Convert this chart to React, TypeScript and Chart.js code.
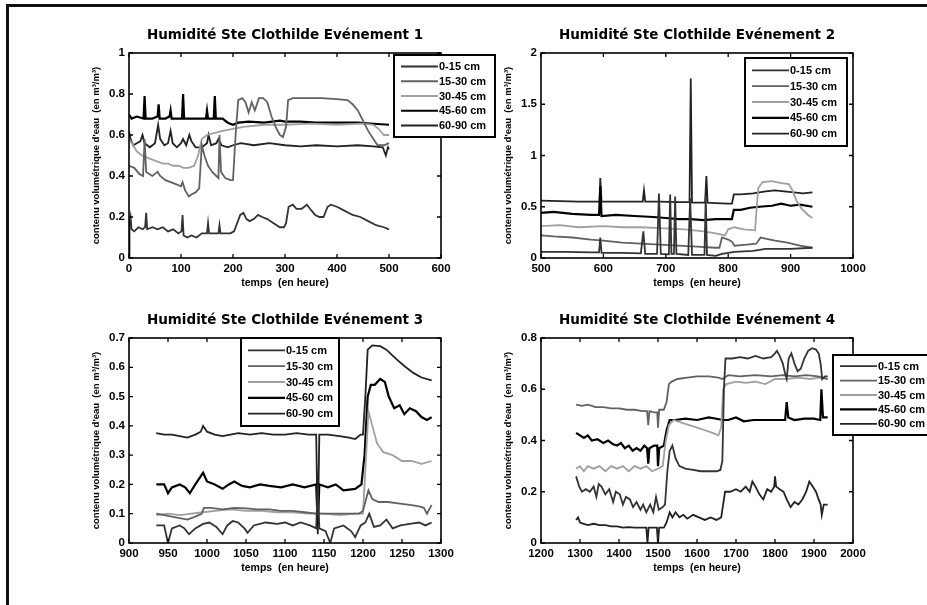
import React, { useEffect, useRef } from "react";
import { Chart, registerables } from "chart.js";
Chart.register(...registerables);

type P = [number, number][];

const LAYERS = ["0-15 cm", "15-30 cm", "30-45 cm", "45-60 cm", "60-90 cm"];
const LAYER_COLORS = ["#333333", "#626262", "#a0a0a0", "#000000", "#222222"];
const LAYER_WIDTHS = [1.8, 1.8, 1.8, 2.2, 1.8];
const X_TITLE = "temps  (en heure)";
const Y_TITLE = "contenu volumétrique d'eau  (en m³/m³)";

// ---------------- Evénement 1 ----------------
const E1_TITLE = "Humidité Ste Clothilde Evénement 1";
const E1_XTICKS = [0, 100, 200, 300, 400, 500, 600];
const E1_YTICKS = [0, 0.2, 0.4, 0.6, 0.8, 1];
const E1_0_15: P = [[0,0.0],[1,0.17],[3,0.2],[5,0.14],[10,0.13],[18,0.15],[26,0.14],[31,0.15],[33,0.22],[35,0.14],[45,0.15],[55,0.14],[65,0.15],[75,0.13],[85,0.14],[95,0.12],[101,0.13],[103,0.21],[105,0.11],[112,0.1],[120,0.11],[130,0.1],[140,0.12],[150,0.12],[152,0.17],[154,0.12],[165,0.12],[172,0.12],[174,0.16],[176,0.12],[185,0.12],[195,0.12],[202,0.13],[208,0.17],[214,0.21],[220,0.22],[226,0.19],[232,0.18],[240,0.19],[248,0.21],[256,0.2],[266,0.19],[278,0.17],[290,0.15],[298,0.15],[302,0.17],[307,0.25],[315,0.26],[322,0.24],[332,0.24],[342,0.26],[348,0.24],[358,0.21],[366,0.2],[374,0.2],[382,0.25],[388,0.26],[400,0.25],[415,0.23],[430,0.21],[445,0.2],[460,0.18],[475,0.16],[490,0.15],[500,0.14]];
const E1_15_30: P = [[0,0.45],[10,0.44],[20,0.41],[27,0.4],[30,0.58],[33,0.42],[45,0.4],[55,0.42],[60,0.4],[70,0.38],[80,0.37],[90,0.36],[100,0.35],[103,0.37],[108,0.33],[115,0.3],[120,0.31],[128,0.32],[135,0.34],[140,0.55],[145,0.5],[152,0.45],[160,0.42],[168,0.4],[172,0.39],[174,0.6],[177,0.42],[185,0.39],[195,0.38],[200,0.38],[205,0.6],[210,0.77],[218,0.78],[224,0.76],[230,0.71],[236,0.76],[242,0.72],[250,0.78],[258,0.78],[266,0.76],[274,0.69],[282,0.64],[290,0.6],[296,0.59],[302,0.64],[306,0.77],[315,0.78],[340,0.78],[370,0.78],[400,0.775],[420,0.77],[430,0.75],[440,0.72],[450,0.67],[460,0.62],[470,0.58],[478,0.55],[490,0.55],[500,0.56]];
const E1_30_45: P = [[0,0.58],[8,0.55],[15,0.52],[25,0.5],[35,0.49],[45,0.48],[55,0.47],[65,0.46],[75,0.46],[85,0.45],[95,0.45],[105,0.44],[115,0.44],[125,0.45],[133,0.5],[140,0.58],[150,0.6],[165,0.61],[180,0.62],[200,0.63],[220,0.64],[260,0.65],[300,0.65],[350,0.655],[400,0.65],[450,0.655],[470,0.65],[480,0.63],[490,0.6],[500,0.6]];
const E1_45_60: P = [[0,0.7],[5,0.68],[15,0.69],[28,0.68],[30,0.79],[32,0.68],[45,0.68],[55,0.69],[57,0.75],[59,0.68],[70,0.68],[78,0.69],[80,0.72],[82,0.68],[95,0.68],[102,0.68],[104,0.8],[106,0.68],[120,0.68],[135,0.68],[148,0.68],[150,0.72],[152,0.68],[163,0.68],[165,0.79],[167,0.68],[180,0.68],[190,0.66],[200,0.65],[210,0.66],[230,0.665],[260,0.66],[290,0.67],[300,0.665],[330,0.665],[360,0.66],[400,0.66],[440,0.66],[470,0.655],[500,0.65]];
const E1_60_90: P = [[0,0.62],[3,0.58],[8,0.55],[15,0.56],[22,0.57],[26,0.6],[30,0.56],[40,0.54],[50,0.56],[56,0.65],[60,0.58],[68,0.55],[75,0.56],[80,0.62],[84,0.56],[92,0.54],[100,0.56],[104,0.58],[110,0.55],[116,0.6],[120,0.57],[128,0.54],[140,0.54],[150,0.56],[153,0.6],[158,0.55],[168,0.56],[172,0.58],[178,0.55],[190,0.54],[200,0.55],[215,0.56],[240,0.55],[270,0.56],[300,0.55],[330,0.545],[360,0.55],[400,0.545],[440,0.55],[470,0.545],[488,0.54],[494,0.5],[498,0.54],[500,0.53]];

// ---------------- Evénement 2 ----------------
const E2_TITLE = "Humidité Ste Clothilde Evénement 2";
const E2_XTICKS = [500, 600, 700, 800, 900, 1000];
const E2_YTICKS = [0, 0.5, 1, 1.5, 2];
const E2_0_15: P = [[500,0.06],[540,0.06],[580,0.055],[593,0.055],[595,0.2],[597,0.05],[630,0.05],[660,0.045],[664,0.26],[667,0.04],[686,0.04],[689,0.63],[692,0.04],[705,0.035],[707,0.62],[709,0.04],[713,0.04],[715,0.6],[717,0.04],[736,0.03],[739,0.58],[742,0.03],[762,0.03],[764,0.6],[766,0.03],[780,0.02],[790,0.04],[810,0.06],[840,0.07],[860,0.09],[900,0.09],[935,0.1]];
const E2_15_30: P = [[500,0.22],[520,0.21],[550,0.2],[580,0.18],[600,0.17],[630,0.15],[660,0.14],[690,0.13],[720,0.12],[750,0.11],[780,0.1],[786,0.1],[790,0.2],[800,0.18],[806,0.16],[810,0.12],[830,0.13],[845,0.14],[852,0.2],[860,0.19],[875,0.17],[895,0.15],[915,0.12],[935,0.1]];
const E2_30_45: P = [[500,0.31],[530,0.32],[560,0.3],[600,0.31],[630,0.3],[660,0.3],[700,0.29],[730,0.28],[760,0.26],[780,0.24],[795,0.22],[800,0.28],[810,0.3],[825,0.28],[843,0.27],[848,0.68],[855,0.74],[870,0.75],[885,0.73],[897,0.72],[903,0.66],[910,0.55],[918,0.48],[928,0.42],[935,0.39]];
const E2_45_60: P = [[500,0.44],[520,0.45],[550,0.43],[580,0.42],[593,0.42],[595,0.7],[597,0.41],[620,0.42],[650,0.41],[680,0.4],[700,0.39],[720,0.38],[740,0.38],[760,0.37],[780,0.38],[800,0.38],[806,0.38],[809,0.47],[820,0.47],[835,0.49],[850,0.5],[870,0.51],[885,0.53],[900,0.51],[915,0.52],[935,0.5]];
const E2_60_90: P = [[500,0.56],[530,0.555],[560,0.55],[590,0.55],[594,0.55],[595,0.78],[597,0.55],[620,0.55],[650,0.55],[663,0.55],[665,0.66],[667,0.55],[690,0.55],[720,0.545],[738,0.545],[740,1.75],[742,0.54],[760,0.54],[763,0.54],[765,0.8],[767,0.54],[780,0.535],[800,0.53],[806,0.53],[809,0.62],[820,0.62],[840,0.63],[860,0.65],[875,0.66],[890,0.65],[905,0.64],[920,0.63],[935,0.64]];

// ---------------- Evénement 3 ----------------
const E3_TITLE = "Humidité Ste Clothilde Evénement 3";
const E3_XTICKS = [900, 950, 1000, 1050, 1100, 1150, 1200, 1250, 1300];
const E3_YTICKS = [0, 0.1, 0.2, 0.3, 0.4, 0.5, 0.6, 0.7];
const E3_0_15: P = [[935,0.06],[945,0.06],[950,0.0],[955,0.05],[965,0.06],[971,0.05],[977,0.03],[985,0.05],[995,0.065],[1003,0.07],[1012,0.055],[1020,0.03],[1026,0.06],[1033,0.075],[1040,0.07],[1048,0.05],[1052,0.035],[1060,0.06],[1075,0.07],[1090,0.065],[1100,0.07],[1110,0.06],[1120,0.07],[1132,0.06],[1140,0.05],[1142,0.2],[1144,0.05],[1152,0.04],[1158,0.0],[1163,0.05],[1175,0.06],[1185,0.04],[1190,0.02],[1197,0.06],[1203,0.07],[1208,0.1],[1214,0.055],[1222,0.06],[1230,0.08],[1238,0.05],[1248,0.06],[1260,0.065],[1272,0.07],[1280,0.06],[1288,0.07]];
const E3_15_30: P = [[935,0.1],[945,0.095],[955,0.09],[965,0.085],[975,0.08],[985,0.09],[993,0.1],[996,0.12],[1005,0.12],[1020,0.115],[1035,0.12],[1050,0.118],[1065,0.115],[1080,0.115],[1095,0.11],[1110,0.11],[1125,0.105],[1140,0.1],[1160,0.1],[1180,0.1],[1195,0.1],[1200,0.11],[1204,0.15],[1207,0.18],[1212,0.15],[1220,0.14],[1232,0.14],[1245,0.135],[1260,0.13],[1272,0.125],[1278,0.12],[1282,0.1],[1288,0.13]];
const E3_30_45: P = [[935,0.095],[950,0.1],[965,0.095],[980,0.1],[995,0.105],[1010,0.11],[1030,0.115],[1050,0.11],[1070,0.11],[1090,0.105],[1110,0.105],[1130,0.1],[1150,0.1],[1170,0.095],[1190,0.1],[1200,0.1],[1204,0.3],[1207,0.45],[1212,0.4],[1218,0.34],[1226,0.31],[1238,0.3],[1250,0.28],[1262,0.28],[1275,0.27],[1288,0.28]];
const E3_45_60: P = [[935,0.2],[945,0.2],[950,0.17],[955,0.19],[965,0.2],[972,0.19],[978,0.17],[985,0.2],[995,0.24],[1000,0.21],[1010,0.2],[1020,0.185],[1028,0.2],[1035,0.21],[1045,0.195],[1055,0.19],[1068,0.2],[1080,0.195],[1095,0.19],[1110,0.2],[1125,0.19],[1140,0.2],[1142,0.06],[1144,0.2],[1155,0.19],[1165,0.2],[1175,0.18],[1190,0.185],[1198,0.2],[1202,0.3],[1206,0.5],[1210,0.54],[1215,0.54],[1222,0.56],[1228,0.55],[1233,0.5],[1240,0.46],[1247,0.47],[1253,0.44],[1260,0.46],[1268,0.45],[1275,0.43],[1282,0.42],[1288,0.43]];
const E3_60_90: P = [[935,0.375],[945,0.37],[955,0.37],[965,0.365],[975,0.36],[985,0.37],[992,0.38],[995,0.4],[1000,0.38],[1010,0.37],[1020,0.365],[1030,0.37],[1040,0.375],[1055,0.37],[1070,0.375],[1085,0.37],[1100,0.37],[1115,0.375],[1130,0.37],[1140,0.37],[1142,0.03],[1144,0.37],[1155,0.37],[1170,0.365],[1182,0.36],[1190,0.355],[1197,0.37],[1200,0.37],[1203,0.5],[1206,0.66],[1212,0.675],[1222,0.672],[1230,0.66],[1238,0.64],[1246,0.62],[1255,0.6],[1265,0.58],[1275,0.565],[1288,0.555]];

// ---------------- Evénement 4 ----------------
const E4_TITLE = "Humidité Ste Clothilde Evénement 4";
const E4_XTICKS = [1200, 1300, 1400, 1500, 1600, 1700, 1800, 1900, 2000];
const E4_YTICKS = [0, 0.2, 0.4, 0.6, 0.8];
const E4_0_15: P = [[1290,0.26],[1298,0.22],[1305,0.2],[1315,0.21],[1325,0.2],[1335,0.22],[1342,0.18],[1348,0.23],[1355,0.22],[1365,0.19],[1375,0.21],[1385,0.16],[1392,0.2],[1402,0.19],[1410,0.15],[1418,0.18],[1428,0.17],[1436,0.14],[1445,0.16],[1455,0.13],[1462,0.15],[1470,0.12],[1480,0.15],[1488,0.12],[1495,0.18],[1502,0.13],[1512,0.14],[1518,0.15],[1524,0.28],[1530,0.36],[1537,0.38],[1545,0.33],[1555,0.3],[1570,0.29],[1590,0.285],[1610,0.28],[1630,0.28],[1650,0.28],[1660,0.285],[1665,0.32],[1669,0.6],[1673,0.72],[1690,0.72],[1710,0.725],[1730,0.72],[1750,0.73],[1770,0.72],[1790,0.725],[1800,0.74],[1805,0.75],[1812,0.73],[1820,0.7],[1826,0.66],[1830,0.64],[1835,0.72],[1842,0.74],[1850,0.7],[1858,0.67],[1866,0.68],[1875,0.72],[1885,0.75],[1895,0.76],[1905,0.755],[1912,0.74],[1917,0.7],[1921,0.64],[1928,0.65],[1935,0.65]];
const E4_15_30: P = [[1290,0.54],[1305,0.535],[1320,0.54],[1340,0.53],[1360,0.53],[1380,0.525],[1400,0.525],[1420,0.52],[1440,0.52],[1460,0.515],[1472,0.515],[1475,0.46],[1478,0.515],[1490,0.51],[1498,0.51],[1500,0.45],[1503,0.52],[1515,0.52],[1522,0.55],[1528,0.62],[1535,0.63],[1550,0.64],[1575,0.645],[1600,0.65],[1630,0.65],[1655,0.645],[1665,0.64],[1680,0.655],[1710,0.65],[1750,0.655],[1790,0.65],[1820,0.655],[1850,0.65],[1880,0.655],[1910,0.65],[1935,0.64]];
const E4_30_45: P = [[1290,0.29],[1300,0.3],[1310,0.28],[1320,0.3],[1335,0.29],[1350,0.3],[1365,0.28],[1380,0.3],[1395,0.29],[1410,0.3],[1425,0.28],[1440,0.3],[1455,0.29],[1470,0.3],[1485,0.28],[1500,0.29],[1512,0.3],[1520,0.4],[1528,0.46],[1540,0.48],[1560,0.47],[1580,0.46],[1600,0.45],[1620,0.44],[1640,0.43],[1655,0.42],[1662,0.45],[1667,0.6],[1675,0.62],[1700,0.63],[1725,0.625],[1750,0.63],[1775,0.62],[1800,0.64],[1830,0.64],[1860,0.645],[1890,0.64],[1915,0.645],[1935,0.64]];
const E4_45_60: P = [[1290,0.43],[1300,0.42],[1310,0.41],[1320,0.42],[1330,0.4],[1345,0.405],[1360,0.39],[1372,0.4],[1385,0.385],[1395,0.38],[1405,0.39],[1415,0.37],[1425,0.38],[1435,0.36],[1445,0.37],[1455,0.36],[1465,0.38],[1472,0.37],[1475,0.31],[1478,0.37],[1490,0.38],[1498,0.38],[1500,0.3],[1503,0.37],[1515,0.38],[1522,0.44],[1530,0.48],[1545,0.48],[1570,0.485],[1600,0.48],[1630,0.49],[1650,0.485],[1665,0.48],[1680,0.48],[1700,0.49],[1720,0.475],[1745,0.48],[1770,0.48],[1800,0.48],[1826,0.48],[1830,0.55],[1834,0.49],[1850,0.48],[1875,0.485],[1900,0.485],[1916,0.48],[1919,0.6],[1923,0.49],[1935,0.49]];
const E4_60_90: P = [[1290,0.09],[1295,0.1],[1300,0.08],[1310,0.075],[1320,0.07],[1335,0.075],[1350,0.07],[1365,0.07],[1380,0.065],[1395,0.065],[1410,0.06],[1425,0.062],[1440,0.06],[1455,0.06],[1470,0.06],[1473,0.0],[1476,0.06],[1490,0.06],[1497,0.06],[1500,0.0],[1503,0.06],[1515,0.06],[1522,0.08],[1530,0.12],[1537,0.1],[1545,0.12],[1555,0.1],[1565,0.11],[1575,0.095],[1590,0.11],[1605,0.1],[1620,0.09],[1635,0.1],[1650,0.09],[1662,0.1],[1667,0.15],[1672,0.2],[1685,0.2],[1700,0.21],[1712,0.2],[1725,0.22],[1735,0.2],[1742,0.24],[1750,0.22],[1760,0.19],[1770,0.17],[1780,0.21],[1790,0.2],[1798,0.22],[1800,0.26],[1803,0.22],[1812,0.21],[1822,0.2],[1830,0.17],[1840,0.14],[1850,0.16],[1860,0.15],[1870,0.17],[1880,0.2],[1888,0.24],[1897,0.22],[1905,0.2],[1912,0.17],[1917,0.15],[1920,0.11],[1925,0.15],[1935,0.15]];

const FONT = "Arial, 'Liberation Sans', Helvetica, sans-serif";
const TITLE_FONT = "'DejaVu Sans', Arial, sans-serif";

interface PlotCfg {
  title: string;
  xticks: number[];
  yticks: number[];
  series: P[];
  legend: { dx: number; dy: number; w: number; h: number };
}

const PLOTS: { cfg: PlotCfg; left: number; top: number }[] = [
  { cfg: { title: E1_TITLE, xticks: E1_XTICKS, yticks: E1_YTICKS, series: [E1_0_15, E1_15_30, E1_30_45, E1_45_60, E1_60_90], legend: { dx: 265, dy: 2, w: 101, h: 82 } }, left: 0, top: 0 },
  { cfg: { title: E2_TITLE, xticks: E2_XTICKS, yticks: E2_YTICKS, series: [E2_0_15, E2_15_30, E2_30_45, E2_45_60, E2_60_90], legend: { dx: 204, dy: 5, w: 102, h: 88 } }, left: 412, top: 0 },
  { cfg: { title: E3_TITLE, xticks: E3_XTICKS, yticks: E3_YTICKS, series: [E3_0_15, E3_15_30, E3_30_45, E3_45_60, E3_60_90], legend: { dx: 112, dy: 0, w: 98, h: 88 } }, left: 0, top: 285 },
  { cfg: { title: E4_TITLE, xticks: E4_XTICKS, yticks: E4_YTICKS, series: [E4_0_15, E4_15_30, E4_30_45, E4_45_60, E4_60_90], legend: { dx: 292, dy: 17, w: 105, h: 80 } }, left: 412, top: 285 },
];

const CW = 515;
const CH = 300;

const matlabPlugin = {
  id: "matlab",
  afterDraw(chart: any, _args: any, opts: any) {
    const { ctx, chartArea: a, scales } = chart;
    ctx.save();
    ctx.strokeStyle = "#000";
    ctx.lineWidth = 1.6;
    ctx.strokeRect(a.left, a.top, a.right - a.left, a.bottom - a.top);
    const tl = 4;
    ctx.lineWidth = 1.3;
    ctx.beginPath();
    scales.x.ticks.forEach((t: any) => {
      const px = scales.x.getPixelForValue(t.value);
      ctx.moveTo(px, a.bottom); ctx.lineTo(px, a.bottom - tl);
      ctx.moveTo(px, a.top); ctx.lineTo(px, a.top + tl);
    });
    scales.y.ticks.forEach((t: any) => {
      const py = scales.y.getPixelForValue(t.value);
      ctx.moveTo(a.left, py); ctx.lineTo(a.left + tl, py);
      ctx.moveTo(a.right, py); ctx.lineTo(a.right - tl, py);
    });
    ctx.stroke();

    // title
    ctx.fillStyle = "#000";
    ctx.font = `bold 13.5px ${TITLE_FONT}`;
    ctx.textAlign = "center";
    ctx.textBaseline = "middle";
    ctx.fillText(opts.title, (a.left + a.right) / 2, a.top - 18);

    // legend
    const lg = opts.legend;
    const bx = a.left + lg.dx;
    const by = a.top + lg.dy;
    ctx.fillStyle = "#fff";
    ctx.fillRect(bx, by, lg.w, lg.h);
    ctx.strokeStyle = "#000";
    ctx.lineWidth = 2;
    ctx.strokeRect(bx, by, lg.w, lg.h);
    const pad = lg.h * 0.14;
    const step = (lg.h - 2 * pad) / 4;
    ctx.font = `bold 11px ${FONT}`;
    ctx.textAlign = "left";
    chart.data.datasets.forEach((ds: any, i: number) => {
      const y = by + pad + i * step;
      ctx.strokeStyle = ds.borderColor;
      ctx.lineWidth = ds.borderWidth;
      ctx.beginPath();
      ctx.moveTo(bx + 7, y);
      ctx.lineTo(bx + 44, y);
      ctx.stroke();
      ctx.fillStyle = "#000";
      ctx.fillText(ds.label, bx + 45, y + 0.5);
    });
    ctx.restore();
  },
};

function buildConfig(cfg: PlotCfg): any {
  const tickFont = { size: 11.5, weight: "bold", family: FONT };
  return {
    type: "line",
    data: {
      datasets: cfg.series.map((s, i) => ({
        label: LAYERS[i],
        data: s.map(([x, y]) => ({ x, y })),
        borderColor: LAYER_COLORS[i],
        borderWidth: LAYER_WIDTHS[i],
        pointRadius: 0,
        fill: false,
        tension: 0,
      })),
    },
    options: {
      animation: false,
      responsive: false,
      devicePixelRatio: 1,
      layout: { padding: { left: 0, top: 53, right: CW - 441, bottom: 11 } },
      plugins: {
        legend: { display: false },
        title: { display: false },
        tooltip: { enabled: false },
        matlab: { title: cfg.title, legend: cfg.legend },
      },
      scales: {
        x: {
          type: "linear",
          min: cfg.xticks[0],
          max: cfg.xticks[cfg.xticks.length - 1],
          afterBuildTicks: (s: any) => { s.ticks = cfg.xticks.map((v) => ({ value: v })); },
          afterFit: (s: any) => { s.height = 31; },
          grid: { display: false, drawTicks: false },
          border: { display: false },
          ticks: { color: "#000", font: tickFont, padding: 4, maxRotation: 0, autoSkip: false, callback: (v: any) => String(v) },
          title: { display: true, text: X_TITLE, color: "#000", font: { size: 10.5, weight: "bold", family: FONT }, padding: { top: 0, bottom: 0 } },
        },
        y: {
          type: "linear",
          min: cfg.yticks[0],
          max: cfg.yticks[cfg.yticks.length - 1],
          afterBuildTicks: (s: any) => { s.ticks = cfg.yticks.map((v) => ({ value: v })); },
          afterFit: (s: any) => { s.width = 129; },
          grid: { display: false, drawTicks: false },
          border: { display: false },
          ticks: { color: "#000", font: tickFont, padding: 4, autoSkip: false, callback: (v: any) => String(v) },
          title: { display: true, text: Y_TITLE, color: "#000", font: { size: 9.5, weight: "bold", family: FONT }, padding: { top: 91, bottom: 0 } },
        },
      },
    },
    plugins: [matlabPlugin],
  };
}

function Plot({ cfg, left, top }: { cfg: PlotCfg; left: number; top: number }) {
  const ref = useRef<HTMLCanvasElement>(null);
  useEffect(() => {
    const chart = new Chart(ref.current as HTMLCanvasElement, buildConfig(cfg));
    return () => chart.destroy();
  }, []);
  return (
    <canvas
      ref={ref}
      width={CW}
      height={CH}
      style={{ position: "absolute", left, top, width: CW, height: CH }}
    />
  );
}

export default function App() {
  return (
    <div style={{ position: "absolute", left: 0, top: 0, width: 927, height: 605, overflow: "hidden", background: "#fff" }}>
      <div style={{ position: "absolute", left: 6, top: 4, width: 1200, height: 1200, borderLeft: "3px solid #111", borderTop: "3px solid #111" }} />
      {PLOTS.map((p, i) => (
        <Plot key={i} cfg={p.cfg} left={p.left} top={p.top} />
      ))}
    </div>
  );
}
